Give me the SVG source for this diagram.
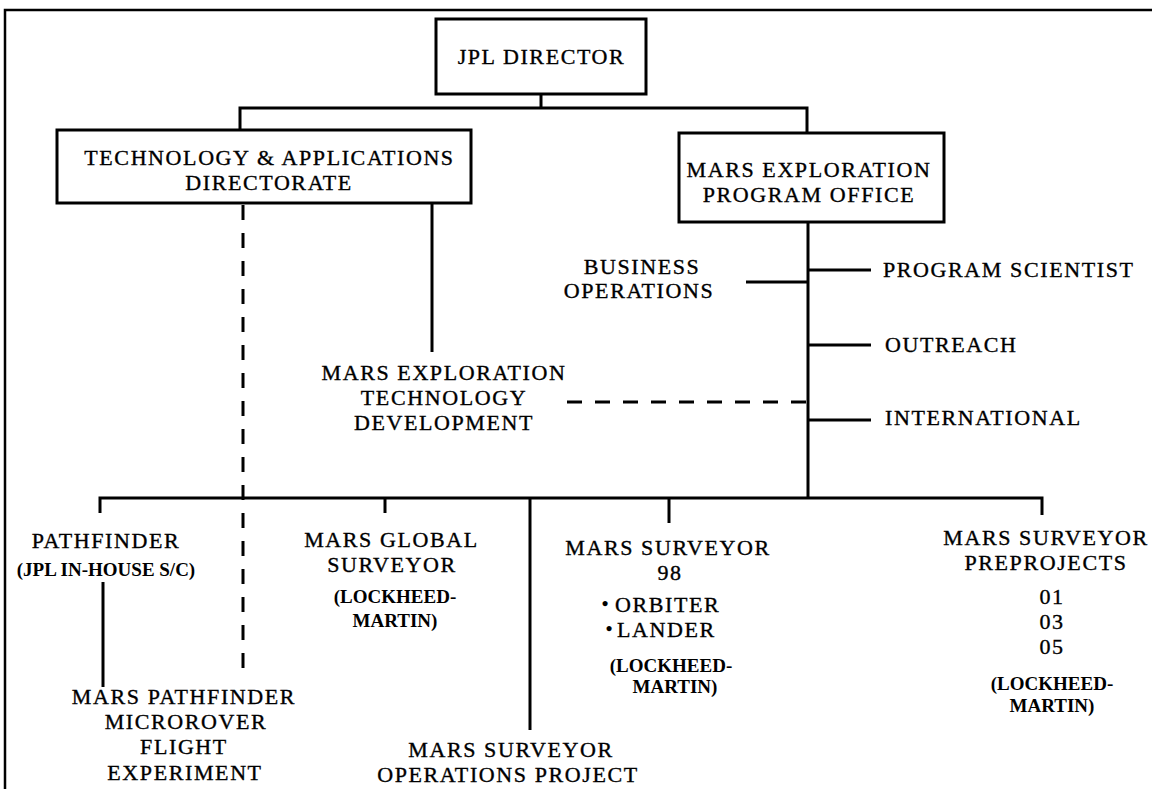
<svg xmlns="http://www.w3.org/2000/svg" width="1152" height="789" viewBox="0 0 1152 789">
<style>
  text { font-family: "Liberation Serif", "Times New Roman", serif; font-size: 22px; letter-spacing: 1.6px; fill: #000; stroke: #000; stroke-width: 0.35; }
  .c { text-anchor: middle; }
  .s { text-anchor: start; }
  .sm { font-size: 19px; font-weight: bold; letter-spacing: 0; stroke-width: 0; }
  .box { fill: #fff; stroke: #000; stroke-width: 3; }
  .ln { stroke: #000; stroke-width: 3; fill: none; }
  .dash { stroke: #000; stroke-width: 3; fill: none; stroke-dasharray: 15 13; }
</style>
<rect x="0" y="0" width="1152" height="789" fill="#fff"/>
<path d="M5,789 V10 H1152" fill="none" stroke="#000" stroke-width="2.5"/>

<g id="connectors">
  <path class="ln" d="M541,94 V108"/>
  <path class="ln" d="M240,130 V108 H807 V133"/>
  <path class="ln" d="M808,222 V498"/>
  <path class="ln" d="M746,282 H808"/>
  <path class="ln" d="M808,270 H871"/>
  <path class="ln" d="M808,345 H871"/>
  <path class="ln" d="M808,420 H871"/>
  <path class="ln" d="M432,203 V352"/>
  <path class="dash" d="M243,205 V668"/>
  <path class="dash" d="M806,402 H563"/>
  <path class="ln" d="M100,513 V498 H1042 V515"/>
  <path class="ln" d="M385,498 V513"/>
  <path class="ln" d="M530,498 V730"/>
  <path class="ln" d="M669,498 V523"/>
  <path class="ln" d="M103,582 V687"/>
</g>

<g id="jpl-director">
  <rect class="box" x="436" y="19" width="210" height="75"/>
  <text class="c" x="541.5" y="64">JPL DIRECTOR</text>
</g>

<g id="tech-apps-directorate">
  <rect class="box" x="57" y="130" width="414" height="73"/>
  <text class="c" x="269.5" y="165">TECHNOLOGY &amp; APPLICATIONS</text>
  <text class="c" x="269" y="190">DIRECTORATE</text>
</g>

<g id="mars-exploration-program-office">
  <rect class="box" x="679" y="133" width="265" height="89"/>
  <text class="c" x="809" y="177">MARS EXPLORATION</text>
  <text class="c" x="809" y="202">PROGRAM OFFICE</text>
</g>

<g id="business-operations">
  <text class="c" x="642" y="274">BUSINESS</text>
  <text class="c" x="639" y="298">OPERATIONS</text>
</g>

<g id="program-scientist">
  <text class="s" x="883" y="277">PROGRAM SCIENTIST</text>
</g>

<g id="outreach">
  <text class="s" x="885" y="352">OUTREACH</text>
</g>

<g id="international">
  <text class="s" x="885" y="425">INTERNATIONAL</text>
</g>

<g id="mars-exploration-technology-development">
  <text class="c" x="444" y="380">MARS EXPLORATION</text>
  <text class="c" x="444" y="405">TECHNOLOGY</text>
  <text class="c" x="444" y="430">DEVELOPMENT</text>
</g>

<g id="pathfinder">
  <text class="c" x="106" y="548">PATHFINDER</text>
  <text class="c sm" x="106" y="576">(JPL IN-HOUSE S/C)</text>
</g>

<g id="mars-pathfinder-microrover">
  <text class="c" x="184" y="704">MARS PATHFINDER</text>
  <text class="c" x="186" y="729">MICROROVER</text>
  <text class="c" x="184" y="754">FLIGHT</text>
  <text class="c" x="185" y="780">EXPERIMENT</text>
</g>

<g id="mars-global-surveyor">
  <text class="c" x="391.5" y="547">MARS GLOBAL</text>
  <text class="c" x="392" y="572">SURVEYOR</text>
  <text class="c sm" x="395" y="603">(LOCKHEED-</text>
  <text class="c sm" x="395" y="627">MARTIN)</text>
</g>

<g id="mars-surveyor-operations-project">
  <text class="c" x="511" y="757">MARS SURVEYOR</text>
  <text class="c" x="508" y="782">OPERATIONS PROJECT</text>
</g>

<g id="mars-surveyor-98">
  <text class="c" x="668" y="555">MARS SURVEYOR</text>
  <text class="c" x="670" y="580">98</text>
  <text class="c sm" x="605" y="610">•</text>
  <text class="s" x="615" y="612">ORBITER</text>
  <text class="c sm" x="609" y="635">•</text>
  <text class="s" x="617" y="637">LANDER</text>
  <text class="c sm" x="671" y="672">(LOCKHEED-</text>
  <text class="c sm" x="675" y="693">MARTIN)</text>
</g>

<g id="mars-surveyor-preprojects">
  <text class="c" x="1046" y="545">MARS SURVEYOR</text>
  <text class="c" x="1046" y="570">PREPROJECTS</text>
  <text class="c" x="1052" y="604">01</text>
  <text class="c" x="1052" y="629">03</text>
  <text class="c" x="1052" y="654">05</text>
  <text class="c sm" x="1052" y="690">(LOCKHEED-</text>
  <text class="c sm" x="1052" y="712">MARTIN)</text>
</g>
</svg>
